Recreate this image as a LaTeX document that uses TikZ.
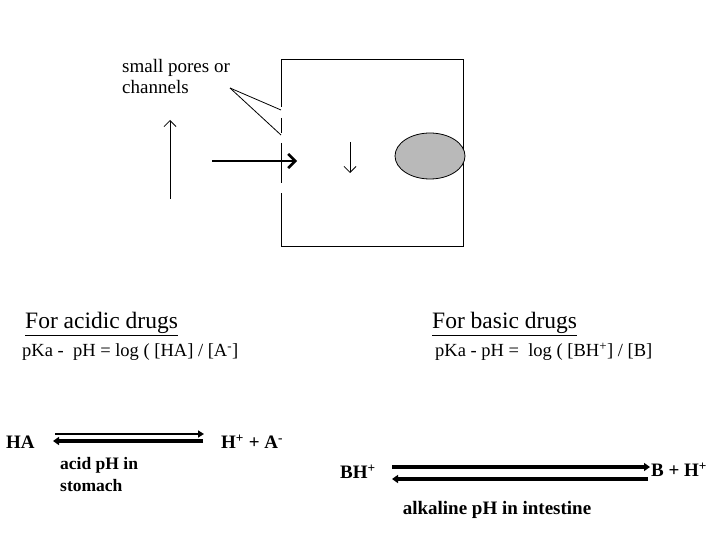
\documentclass[tikz,border=0pt]{standalone}
\usepackage{fontspec}
\setmainfont{Liberation Serif}
\usetikzlibrary{arrows.meta,shapes.geometric}
\begin{document}
\begin{tikzpicture}[x=1pt,y=-1pt,
  lbl/.style={inner sep=0pt,anchor=west},
  eq/.style={inner sep=0pt,anchor=west,font=\fontsize{19}{21}\selectfont\bfseries},
  thin/.style={line width=0.8pt},
  rxn/.style={line width=3.6pt,-{Triangle[length=6pt,width=8pt]}}]
\useasboundingbox (0,0) rectangle (720,540);
% cell box
\coordinate (tl) at (281,59); \coordinate (bl) at (281,246);
\coordinate (tr) at (463,59); \coordinate (br) at (463,246);
\draw[thin] (281,107) -- (tl) -- (tr) -- (br) -- (bl) -- (281,193);
\draw[thin] (281,118) -- (281,133);
\draw[thin] (281,143) -- (281,183);
\node[lbl,align=left,font=\fontsize{19}{21}\selectfont] (pores) at (122,77) {small pores or\\channels};
\coordinate (pp) at (230,88);
\coordinate (g1) at (281,110); \coordinate (g2) at (281,135);
\draw[thin] (pp) -- (g1); \draw[thin] (pp) -- (g2);
\coordinate (u1) at (170,199); \coordinate (u2) at (170,120);
\draw[thin,-{Straight Barb[length=6pt,width=12pt]}] (u1) -- (u2);
\coordinate (t1) at (212,161); \coordinate (t2) at (297,161);
\draw[line width=2.6pt,-{Straight Barb[length=7pt,width=14pt]}] (t1) -- (t2);
\coordinate (d1) at (350,142); \coordinate (d2) at (350,173);
\draw[thin,-{Straight Barb[length=6pt,width=12pt]}] (d1) -- (d2);
\node[draw,thick,fill=gray!55,ellipse,minimum width=70pt,minimum height=46pt,inner sep=0pt] (nuc) at (430,156) {};
% acidic / basic
\node[lbl,font=\fontsize{23.5}{26}\selectfont] (fa) at (25,324) {\underline{For acidic drugs}};
\node[lbl,font=\fontsize{23.5}{26}\selectfont] (fb) at (432,324) {\underline{For basic drugs}};
\node[lbl,font=\fontsize{18.5}{20}\selectfont] (ka) at (22,352) {pKa -\ \ pH = log ( [HA] / [A\textsuperscript{-}]};
\node[lbl,font=\fontsize{18.5}{20}\selectfont] (kb) at (435,352) {pKa - pH = \ log ( [BH\textsuperscript{+}] / [B]};
\node[eq] (ha) at (6,442) {HA};
\node[eq] (hp) at (221,442) {H\textsuperscript{+} + A\textsuperscript{-}};
\coordinate (a1) at (55,434); \coordinate (a2) at (204,434);
\coordinate (a3) at (203,441); \coordinate (a4) at (53,441);
\draw[line width=2.2pt,-{Triangle[length=6pt,width=7pt]}] (a1) -- (a2);
\draw[rxn] (a3) -- (a4);
\node[eq,align=left,font=\fontsize{17.5}{22}\selectfont\bfseries] (st) at (60,475) {acid pH in\\stomach};
\node[eq] (bh) at (340,472) {BH\textsuperscript{+}};
\node[eq] (bp) at (651,470) {B + H\textsuperscript{+}};
\coordinate (b1) at (392,467); \coordinate (b2) at (650,467);
\coordinate (b3) at (648,479); \coordinate (b4) at (392,479);
\draw[rxn] (b1) -- (b2);
\draw[rxn] (b3) -- (b4);
\node[eq,anchor=center] (al) at (497,510) {alkaline pH in intestine};
\end{tikzpicture}
\end{document}
